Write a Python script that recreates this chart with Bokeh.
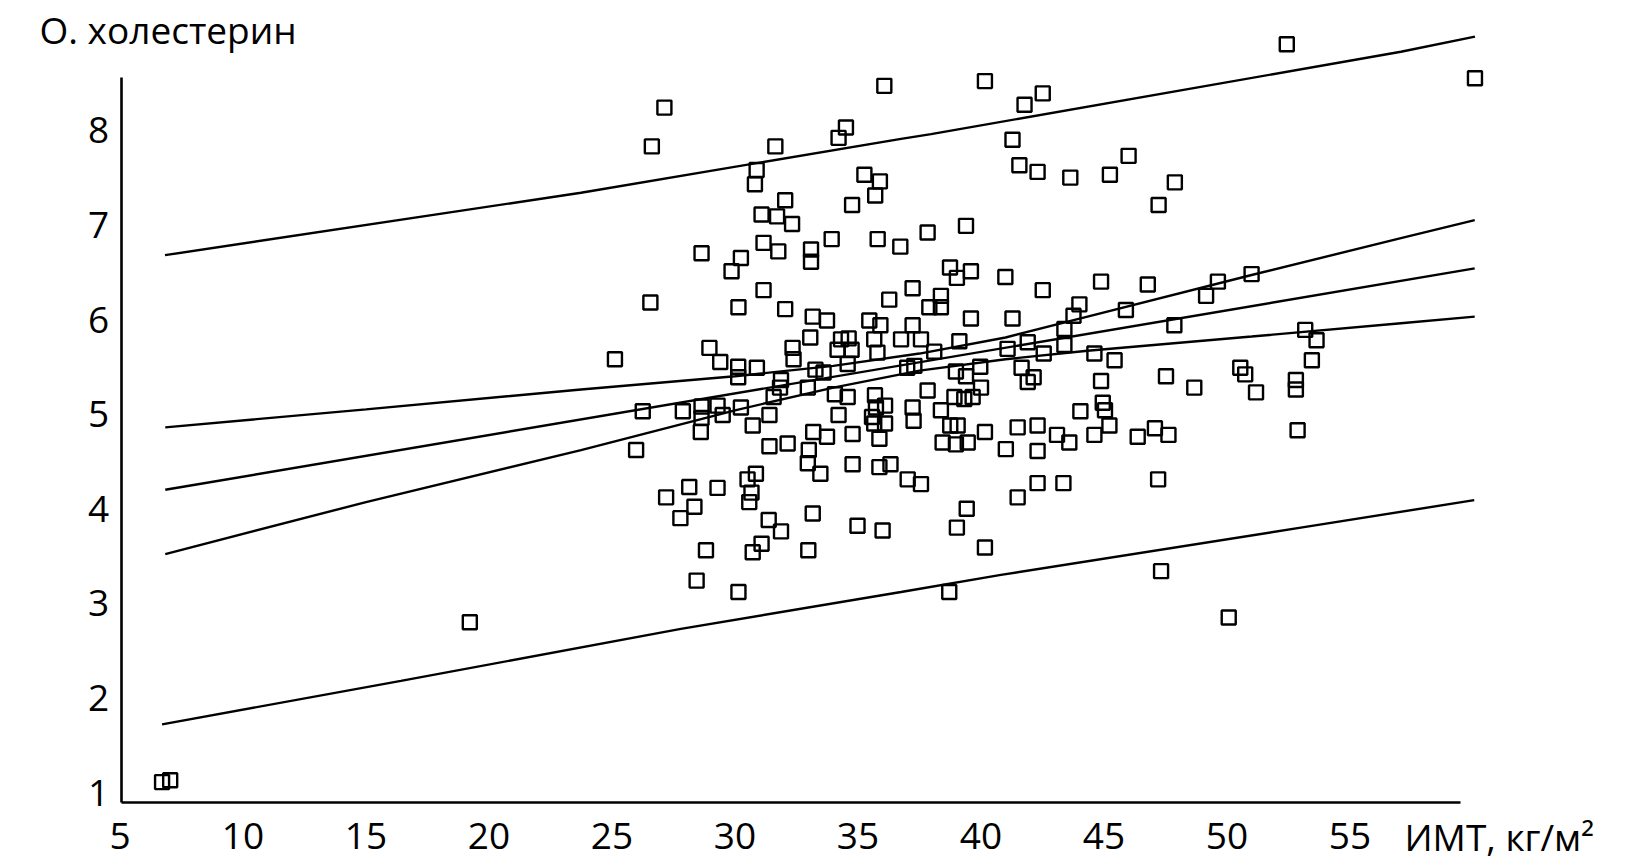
from bokeh.plotting import figure
from bokeh.models import Label, FixedTicker
from bokeh.embed import file_html
from bokeh.resources import INLINE

# ---- data ----
bmi = [6.71, 7.04, 19.22,
       27.13, 26.62, 31.64, 34.51, 34.21, 36.07, 30.88, 30.81, 35.26, 35.89, 35.70, 34.76,
       32.04, 31.08, 31.71, 32.32, 37.83, 33.93, 35.80, 36.72, 31.16, 31.76, 33.09, 33.09,
       28.64, 30.24, 29.86, 26.56, 31.16, 30.14, 32.04, 36.27, 37.22, 37.90, 33.16, 33.74,
       35.46, 35.91, 37.22, 33.06, 34.31, 35.66, 36.75, 37.56, 28.96, 25.12, 32.34,
       34.62, 34.74, 34.17, 35.79,
       29.40, 30.13, 30.13, 30.89, 32.38, 33.27, 33.60, 34.58, 37.29, 37.00, 31.87, 31.83,
       31.57, 32.96, 34.06, 34.58, 35.69, 35.73, 36.10, 35.57, 36.10, 35.66, 35.87, 37.22,
       37.26, 37.83, 34.21, 34.78, 33.18, 33.74, 31.40, 30.72, 30.24, 29.50, 29.29, 28.64,
       28.64, 28.61, 27.88, 26.25, 25.98, 31.40, 32.14, 33.00, 32.96, 33.47, 34.78, 35.87,
       36.32, 37.02, 37.56, 30.85, 30.51, 30.67, 30.58, 29.29, 28.14, 27.20, 28.35, 27.78,
       31.37, 33.16, 34.98, 36.00, 31.87,
       52.43, 40.16, 41.77, 42.51, 41.28, 41.56, 42.30, 43.63, 45.24, 46.00, 47.88, 47.22,
       39.39, 38.74, 39.02, 39.59, 40.99, 42.51, 44.88, 46.78, 49.63, 49.15, 51.00, 45.89,
       44.00, 43.76, 43.39, 38.37, 38.37, 39.59, 41.28, 47.86, 53.18, 41.90, 39.12,
       38.10, 41.08, 42.55, 43.39, 44.61, 45.43, 38.98, 39.97, 41.65, 42.14, 41.90, 39.39,
       44.88, 47.52, 48.67, 40.00, 38.92, 39.66, 39.32, 38.37, 38.75, 39.05, 38.44, 38.98,
       39.46, 40.16, 41.01, 41.49, 42.30, 42.30, 43.09, 43.59, 44.04, 44.95, 45.04, 45.22,
       44.61, 46.37, 47.07, 47.62, 42.30, 43.35, 47.20, 41.49, 39.42, 39.02, 40.16,
       53.64, 53.45, 50.54, 50.74, 51.18, 52.80, 52.80, 52.87,
       28.82, 31.08, 30.72, 32.98, 28.44, 30.14, 38.71,
       47.32, 50.07, 60.08]

chol = [1.11, 1.13, 2.80,
        8.24, 7.83, 7.83, 8.03, 7.92, 8.47, 7.58, 7.43, 7.53, 7.46, 7.31, 7.21,
        7.26, 7.11, 7.09, 7.01, 6.92, 6.85, 6.85, 6.77, 6.81, 6.72, 6.74, 6.61,
        6.70, 6.65, 6.51, 6.18, 6.31, 6.13, 6.11, 6.21, 6.33, 6.13, 6.03, 5.99,
        5.99, 5.94, 5.94, 5.81, 5.79, 5.79, 5.79, 5.79, 5.70, 5.58, 5.70,
        5.80, 5.68, 5.68, 5.65,
        5.55, 5.50, 5.39, 5.49, 5.58, 5.47, 5.44, 5.53, 5.51, 5.49, 5.36, 5.28,
        5.18, 5.28, 5.21, 5.18, 5.20, 5.07, 5.09, 4.97, 4.90, 4.90, 4.74, 5.07,
        4.93, 5.25, 4.99, 4.79, 4.81, 4.76, 4.99, 4.88, 5.07, 4.99, 5.09, 5.08,
        4.96, 4.81, 5.03, 5.03, 4.62, 4.66, 4.69, 4.62, 4.48, 4.37, 4.47, 4.44,
        4.47, 4.31, 4.26, 4.37, 4.31, 4.17, 4.07, 4.22, 4.23, 4.12, 4.02, 3.90,
        3.88, 3.95, 3.82, 3.77, 3.76,
        8.91, 8.52, 8.27, 8.39, 7.90, 7.63, 7.56, 7.50, 7.53, 7.73, 7.45, 7.21,
        6.99, 6.55, 6.44, 6.51, 6.45, 6.31, 6.40, 6.37, 6.40, 6.25, 6.48, 6.10,
        6.16, 6.04, 5.90, 6.25, 6.13, 6.01, 6.01, 5.94, 5.89, 5.76, 5.77,
        5.66, 5.69, 5.64, 5.73, 5.64, 5.57, 5.45, 5.50, 5.49, 5.39, 5.34, 5.40,
        5.35, 5.40, 5.28, 5.28, 5.18, 5.18, 5.16, 5.04, 4.88, 4.88, 4.70, 4.68,
        4.70, 4.81, 4.63, 4.86, 4.88, 4.61, 4.78, 4.70, 5.03, 5.12, 5.04, 4.88,
        4.78, 4.76, 4.85, 4.78, 4.27, 4.27, 4.31, 4.12, 4.00, 3.80, 3.59,
        5.78, 5.57, 5.49, 5.42, 5.23, 5.36, 5.26, 4.83,
        3.56, 3.63, 3.54, 3.56, 3.24, 3.12, 3.12,
        3.34, 2.85, 8.55]

# regression line and bands
reg_x = [6.84, 60.07]
reg_y = [4.20, 6.54]

ci_x = [6.84, 15.0, 23.74, 30.0, 34.0, 37.5, 41.0, 44.33, 51.0, 57.07, 60.07]
ci_upper = [4.86, 5.05, 5.26, 5.40, 5.51, 5.64, 5.81, 6.03, 6.47, 6.86, 7.05]
ci_lower = [3.52, 4.07, 4.62, 5.04, 5.28, 5.46, 5.58, 5.67, 5.82, 5.96, 6.03]

pi_up_x = [6.83, 23.74, 36.75, 37.97, 57.07, 60.08]
pi_up_y = [6.68, 7.34, 7.91, 7.96, 8.83, 8.99]
pi_lo_x = [6.71, 16.42, 27.8, 36.75, 40.81, 53.0, 60.05]
pi_lo_y = [1.72, 2.18, 2.73, 3.12, 3.30, 3.80, 4.09]

x_ticks = [5, 10, 15, 20, 25, 30, 35, 40, 45, 50, 55]
y_ticks = [1, 2, 3, 4, 5, 6, 7, 8]

y_title = "О. холестерин"
x_title = "ИМТ, кг/м²"

FONT = "Open Sans"
FS = "37px"

W, H = 1614, 862
PX_X, PX_Y = 24.6, 94.6          # pixels per data unit
X0 = 5 - 119.5 / PX_X            # left edge of canvas in data units
Y1 = 1 + 792 / PX_Y              # top edge of canvas in data units

p = figure(width=W, height=H, output_backend="svg", toolbar_location=None,
           x_range=(X0, X0 + W / PX_X), y_range=(Y1 - H / PX_Y, Y1),
           min_border=0)
p.grid.visible = False
p.outline_line_color = None
p.background_fill_color = "white"
p.border_fill_color = "white"

for ax in (p.xaxis, p.yaxis):
    ax.axis_line_color = "black"
    ax.axis_line_width = 2.6
    ax.major_tick_line_color = None
    ax.minor_tick_line_color = None
    ax.major_label_text_font = FONT
    ax.major_label_text_font_size = FS
    ax.major_label_text_color = "black"

p.xaxis.ticker = FixedTicker(ticks=x_ticks)
p.yaxis.ticker = FixedTicker(ticks=y_ticks)
p.xaxis.fixed_location = 0.894
p.yaxis.fixed_location = 5.05
p.xaxis.bounds = (5.05, 59.5)
p.yaxis.bounds = (0.894, 8.56)
p.xaxis.major_label_standoff = 14
p.yaxis.major_label_standoff = 6

LW = 2.4
p.line(pi_up_x, pi_up_y, line_color="black", line_width=LW)
p.line(pi_lo_x, pi_lo_y, line_color="black", line_width=LW)
p.line(ci_x, ci_upper, line_color="black", line_width=LW)
p.line(ci_x, ci_lower, line_color="black", line_width=LW)
p.line(reg_x, reg_y, line_color="black", line_width=LW)

p.scatter(bmi, chol, marker="square", size=14, fill_color=None,
          line_color="black", line_width=2.4)

SHIFT = 16 / PX_Y   # baseline correction for Label rendering
p.add_layout(Label(x=5 + (39 - 119.5) / PX_X, y=8.896 + SHIFT, text=y_title,
                   text_font=FONT, text_font_size=FS, text_color="black",
                   text_baseline="alphabetic", text_align="left"))
p.add_layout(Label(x=5 + (1404 - 119.5) / PX_X, y=0.366 + SHIFT, text=x_title,
                   text_font=FONT, text_font_size=FS, text_color="black",
                   text_baseline="alphabetic", text_align="left"))

open("out.html", "w").write(file_html(p, INLINE))
